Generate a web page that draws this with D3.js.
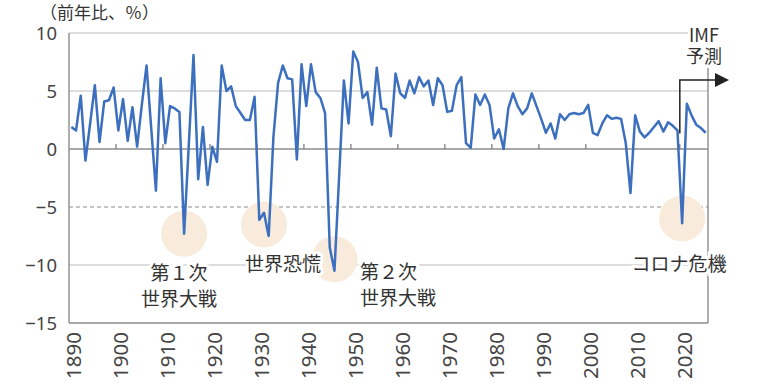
<!DOCTYPE html>
<html>
<head>
<meta charset="utf-8">
<script src="https://cdn.jsdelivr.net/npm/d3@7"></script>
<style>
  body { margin: 0; background: #fff; }
  text { font-family: "Noto Sans", sans-serif; }
  .jp { font-family: "Noto Sans CJK JP", sans-serif; fill: #333; }
</style>
</head>
<body>
<div id="chart"></div>
<script>
// Data: world real GDP growth, year on year (%)
const startYear = 1890;
const growth = [
  1.9, 1.6, 4.6, -1.0, 2.2, 5.5, 0.6, 4.1, 4.2, 5.3,      // 1890s
  1.6, 4.3, 0.7, 3.6, 0.2, 3.8, 7.2, 1.8, -3.6, 6.1,      // 1900s
  0.5, 3.7, 3.5, 3.2, -7.3, 0.4, 8.1, -2.6, 1.9, -3.1,    // 1910s
  0.2, -1.1, 7.2, 5.0, 5.4, 3.7, 3.1, 2.5, 2.5, 4.5,      // 1920s
  -6.1, -5.5, -7.5, 1.0, 5.7, 7.2, 6.1, 6.0, -0.9, 7.3,   // 1930s
  3.7, 7.3, 4.9, 4.4, 3.1, -8.5, -10.5, -2.3, 5.9, 2.2,   // 1940s
  8.4, 7.5, 4.4, 4.9, 2.1, 7.0, 3.5, 3.4, 1.1, 6.5,       // 1950s
  4.8, 4.4, 5.9, 4.8, 6.2, 5.4, 5.9, 3.8, 6.1, 5.5,       // 1960s
  3.2, 3.3, 5.5, 6.2, 0.5, 0.1, 4.7, 3.8, 4.7, 3.8,       // 1970s
  0.9, 1.7, 0.0, 3.5, 4.8, 3.7, 3.0, 3.5, 4.8, 3.7,       // 1980s
  2.6, 1.4, 2.2, 0.9, 3.0, 2.5, 3.0, 3.1, 3.0, 3.1,       // 1990s
  3.8, 1.4, 1.2, 2.2, 2.9, 2.6, 2.7, 2.6, 0.5, -3.8,      // 2000s
  2.9, 1.5, 1.0, 1.4, 1.9, 2.4, 1.5, 2.3, 2.0, 1.6,       // 2010s
  -6.4, 3.9, 2.9, 2.1, 1.8, 1.4                           // 2020s (IMF forecast)
];
const years = growth.map((d, i) => startYear + i);
const yTicks = [10, 5, 0, -5, -10, -15];
const xTickYears = d3.range(1890, 2021, 10);
const forecastStart = 2020;

// Crisis markers: circle sits on the dip, labels below
const crises = [
  { year: 1914, value: -7.3, lines: ['第１次', '世界大戦'] },
  { year: 1931, value: -6.5, lines: ['世界恐慌'] },
  { year: 1946, value: -9.5, lines: ['第２次', '世界大戦'] },
  { year: 2020, value: -6.0, lines: ['コロナ危機'] }
];

const W = 763, H = 389;
const plot = { left: 69, right: 708, top: 33, bottom: 323 };

const svg = d3.select('#chart')
  .append('svg')
  .attr('width', W)
  .attr('height', H);

// Scales: category (band) axis for years, like a spreadsheet chart
const x = d3.scaleBand()
  .domain(years)
  .range([plot.left, plot.right]);
const xc = yr => x(yr) + x.bandwidth() / 2;

const y = d3.scaleLinear()
  .domain([-15, 10])
  .range([plot.bottom, plot.top]);

// Horizontal gridlines
yTicks.forEach(t => {
  const line = svg.append('line')
    .attr('x1', plot.left)
    .attr('x2', plot.right)
    .attr('y1', y(t))
    .attr('y2', y(t));
  if (t === 0 || t === -15) {
    line.attr('stroke', '#8c8c8c').attr('stroke-width', 1.6);
  } else if (t === -5) {
    line.attr('stroke', '#8c8c8c').attr('stroke-width', 1.2).attr('stroke-dasharray', '4,3');
  } else {
    line.attr('stroke', '#d2d2d2').attr('stroke-width', 1.6);
  }
});

// Left axis line and right border
svg.append('line')
  .attr('x1', plot.left).attr('x2', plot.left)
  .attr('y1', plot.top).attr('y2', plot.bottom)
  .attr('stroke', '#8c8c8c').attr('stroke-width', 1.4);

svg.append('line')
  .attr('x1', plot.right).attr('x2', plot.right)
  .attr('y1', 68).attr('y2', plot.bottom)
  .attr('stroke', '#8c8c8c').attr('stroke-width', 1.4);

// Small ticks on the zero line at decade boundaries
svg.selectAll('.zero-tick')
  .data(xTickYears.slice(1))
  .enter()
  .append('line')
  .attr('class', 'zero-tick')
  .attr('x1', d => x(d)).attr('x2', d => x(d))
  .attr('y1', y(0)).attr('y2', y(0) - 5)
  .attr('stroke', '#777').attr('stroke-width', 1.2);

// Y axis labels
svg.selectAll('.y-label')
  .data(yTicks)
  .enter()
  .append('text')
  .attr('class', 'y-label')
  .attr('x', 57)
  .attr('y', d => y(d))
  .attr('dy', '0.36em')
  .attr('text-anchor', 'end')
  .style('font-size', '18.5px')
  .style('fill', '#444')
  .text(d => d < 0 ? '\u2212' + Math.abs(d) : d);

// X axis labels, rotated
svg.selectAll('.x-label')
  .data(xTickYears)
  .enter()
  .append('text')
  .attr('class', 'x-label')
  .attr('transform', d => `translate(${xc(d) + 2},332) rotate(-90)`)
  .attr('dy', '0.36em')
  .attr('text-anchor', 'end')
  .style('font-size', '20.5px')
  .style('fill', '#444')
  .text(d => d);

// Unit label
svg.append('text')
  .attr('class', 'jp')
  .attr('x', 40)
  .attr('y', 11)
  .attr('dominant-baseline', 'central')
  .style('font-size', '17px')
  .text('（前年比、％）');

// Crisis circles (behind the line)
svg.selectAll('.crisis-dot')
  .data(crises)
  .enter()
  .append('circle')
  .attr('class', 'crisis-dot')
  .attr('cx', d => xc(d.year))
  .attr('cy', d => y(d.value))
  .attr('r', 23)
  .attr('fill', '#f8ebdc');

// Growth line
const line = d3.line()
  .x((d, i) => xc(years[i]))
  .y(d => y(d));

svg.append('path')
  .datum(growth)
  .attr('d', line)
  .attr('fill', 'none')
  .attr('stroke', '#3d6fbf')
  .attr('stroke-width', 2.5)
  .attr('stroke-linejoin', 'round');

// Crisis labels with white halo that cuts the gridlines
const labelPos = [
  { x: 179, y: 271, anchor: 'middle' },
  { x: 283, y: 262, anchor: 'middle' },
  { x: 360, y: 270, anchor: 'start' },
  { x: 679, y: 262, anchor: 'middle' }
];
crises.forEach((c, i) => {
  const p = labelPos[i];
  c.lines.forEach((s, j) => {
    svg.append('text')
      .attr('class', 'jp')
      .attr('x', p.x)
      .attr('y', p.y + j * 26)
      .attr('dominant-baseline', 'central')
      .attr('text-anchor', p.anchor)
      .style('font-size', '19px')
      .style('stroke', '#fff')
      .style('stroke-width', 6)
      .style('paint-order', 'stroke')
      .text(s);
  });
});

// IMF forecast marker
const fx = x(forecastStart);
svg.append('path')
  .attr('d', `M${fx},${y(growth[forecastStart - 1 - startYear]) + 3}V80H716`)
  .attr('fill', 'none')
  .attr('stroke', '#222')
  .attr('stroke-width', 1.5);

svg.append('path')
  .attr('d', 'M715,73L729,80L715,87Z')
  .attr('fill', '#222');

['IMF', '予測'].forEach((s, j) => {
  svg.append('text')
    .attr('class', 'jp')
    .attr('x', 704)
    .attr('y', 34 + j * 21)
    .attr('dominant-baseline', 'central')
    .attr('text-anchor', 'middle')
    .style('font-size', '18px')
    .style('stroke', '#fff')
    .style('stroke-width', 5)
    .style('paint-order', 'stroke')
    .text(s);
});
</script>
</body>
</html>
